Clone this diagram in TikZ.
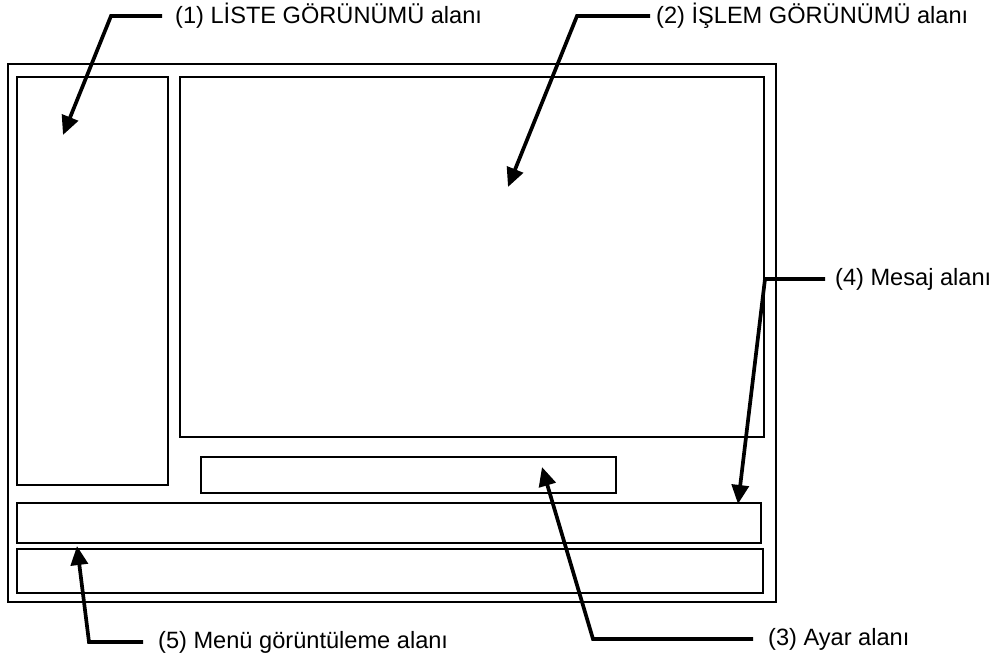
\documentclass[tikz,border=0pt]{standalone}
\usepackage{fontspec}
\setmainfont{Liberation Sans}
\usetikzlibrary{arrows.meta,fit}
\begin{document}
\begin{tikzpicture}[x=1pt,y=-1pt,
  panel/.style={draw, line width=1.7pt, inner sep=0pt},
  callout/.style={anchor=west, inner ysep=0pt,
    font=\fontsize{23.6}{28}\selectfont},
  pointer/.style={line width=3.7pt, line join=miter,
    -{Triangle[length=19pt,width=17pt]}}]
\useasboundingbox (0,0) rectangle (997,659);

% screen frame and its areas
\node[panel, fit={(8,64) (776,602)}] (frame) {};
\node[panel, fit={(17,77) (168,485)}] (list) {};
\node[panel, fit={(180,77) (764,437)}] (oper) {};
\node[panel, fit={(201,457) (616,493)}] (setting) {};
\node[panel, fit={(17,503) (761,543)}] (msg) {};
\node[panel, fit={(17,549) (763,593)}] (menu) {};

% callout texts
\node[callout, inner xsep=13pt] (t1) at (162,16) {(1) LİSTE GÖRÜNÜMÜ alanı};
\node[callout, inner xsep=6pt]  (t2) at (650,16) {(2) İŞLEM GÖRÜNÜMÜ alanı};
\node[callout, inner xsep=10pt] (t4) at (825,279) {(4) Mesaj alanı};
\node[callout, inner xsep=15pt] (t3) at (753,639) {(3) Ayar alanı};
\node[callout, inner xsep=15pt] (t5) at (143,642) {(5) Menü görüntüleme alanı};

% pointer bends and tips
\coordinate (b1) at (111,16);  \coordinate (p1) at (63,135);
\coordinate (b2) at (577,16);  \coordinate (p2) at (508,187);
\coordinate (b4) at (765,279); \coordinate (p4) at (738,504);
\coordinate (b3) at (593,639); \coordinate (p3) at (542,467);
\coordinate (b5) at (89,642);  \coordinate (p5) at (77,546);

\draw[pointer] (t1.west) -- (b1) -- (p1);
\draw[pointer] (t2.west) -- (b2) -- (p2);
\draw[pointer] (t4.west) -- (b4) -- (p4);
\draw[pointer] (t3.west) -- (b3) -- (p3);
\draw[pointer] (t5.west) -- (b5) -- (p5);
\end{tikzpicture}
\end{document}
